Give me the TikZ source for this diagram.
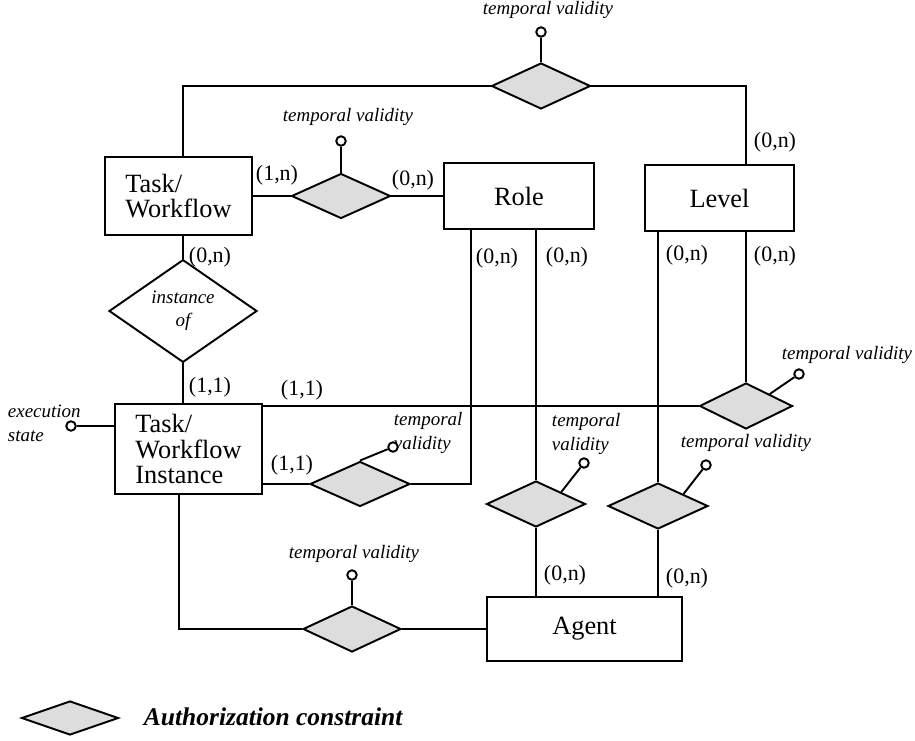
\documentclass[tikz,border=0pt]{standalone}
\usepackage{fontspec}
\setmainfont{Liberation Serif}
\usetikzlibrary{shapes.geometric}
\definecolor{relfill}{RGB}{221,221,221}
\begin{document}
\begin{tikzpicture}[x=0.02cm,y=-0.02cm,line width=1.1pt,
  ent/.style={draw,rectangle,inner sep=0pt,font=\fontsize{15}{14.5}\selectfont,align=left},
  rel/.style={draw,diamond,fill=relfill,inner sep=0pt},
  attr/.style={draw,circle,fill=white,minimum size=0.19cm,inner sep=0pt},
  card/.style={font=\fontsize{12.5}{14}\selectfont,inner sep=0pt},
  tv/.style={font=\fontsize{10.8}{13.5}\selectfont\itshape,inner sep=0pt}]
\useasboundingbox (0,0) rectangle (915,740);

% entities
\node[ent,minimum width=2.94cm,minimum height=1.56cm] (TW) at (178.5,196) {Task/\\Workflow};
\node[ent,minimum width=3.00cm,minimum height=1.32cm] (Role) at (519,196) {Role};
\node[ent,minimum width=2.98cm,minimum height=1.32cm] (Level) at (719.5,198) {Level};
\node[ent,minimum width=2.94cm,minimum height=1.80cm] (TWI) at (188.5,449) {Task/\\Workflow\\Instance};
\node[ent,minimum width=3.90cm,minimum height=1.28cm] (Agent) at (584.5,629) {Agent};

% relationships
\node[rel,minimum width=1.98cm,minimum height=0.92cm] (D1) at (541,86) {};
\node[rel,minimum width=1.98cm,minimum height=0.90cm] (D2) at (341,196) {};
\node[draw,diamond,fill=white,inner sep=0pt,minimum width=2.96cm,minimum height=1.22cm,
      font=\fontsize{10.8}{13}\selectfont\itshape,align=center] (D0) at (183,311) {instance\\of};
\node[rel,minimum width=2.00cm,minimum height=0.90cm] (D3) at (360,484) {};
\node[rel,minimum width=1.86cm,minimum height=0.92cm] (D4) at (746,406) {};
\node[rel,minimum width=1.98cm,minimum height=0.92cm] (D5) at (536,504) {};
\node[rel,minimum width=2.00cm,minimum height=0.92cm] (D6) at (658,506) {};
\node[rel,minimum width=1.96cm,minimum height=0.92cm] (D7) at (352,629) {};

% helper x positions
\coordinate (xa) at (183,0);
\coordinate (xb) at (179,0);
\coordinate (xr) at (471,0);

% connectors
\draw (D1.west) -| (TW.north -| xa);
\draw (D1.east) -| (Level.north -| D4);
\draw (TW) -- (D2) -- (Role);
\draw (D0.north) -- (D0.north |- TW.south);
\draw (D0.south) -- (D0.south |- TWI.north);
\draw (TWI.east |- D4.west) -- (D4.west);
\draw (Level.south -| D4) -- (D4.north);
\draw (Role.south -| xr) |- (D3.east);
\draw (TWI.east |- D3.west) -- (D3.west);
\draw (Role.south -| D5) -- (D5.north);
\draw (D5.south) -- (D5.south |- Agent.north);
\draw (Level.south -| D6) -- (D6.north);
\draw (D6.south) -- (D6.south |- Agent.north);
\draw (TWI.south -| xb) |- (D7.west);
\draw (D7) -- (Agent);

% labels temporal validity
\node[tv] (tv1) at (548,10) {temporal validity};
\node[tv] (tv2) at (348,117) {temporal validity};
\node[tv,anchor=west,align=left] (tv3) at (393,433) {temporal\\validity};
\node[tv] (tv4) at (847,355) {temporal validity};
\node[tv,anchor=west,align=left] (tv5) at (551,434) {temporal\\validity};
\node[tv] (tv6) at (746,443) {temporal validity};
\node[tv] (tv7) at (354,554) {temporal validity};
\node[tv,anchor=west,align=left] (ex) at (7,423) {execution\\state};

% attribute circles
\node[attr] (a1) at (541,32) {};
\node[attr] (a2) at (341,141) {};
\node[attr] (a3) at (393,447) {};
\node[attr] (a4) at (799,374) {};
\node[attr] (a5) at (584,463) {};
\node[attr] (a6) at (706,465) {};
\node[attr] (a7) at (352,575) {};
\node[attr] (a8) at (71,426) {};
\draw (a1) -- (D1.north);
\draw (a2) -- (D2.north);
\draw (a3) -- (D3.north);
\draw (a4) -- (D4.north east);
\draw (a5) -- (D5.north east);
\draw (a6) -- (D6.north east);
\draw (a7) -- (D7.north);
\draw (a8) -- (a8 -| TWI.west);

% cardinalities
\node[card] (c1) at (775,142) {(0,n)};
\node[card] (c2) at (277,175) {(1,n)};
\node[card] (c3) at (413,180) {(0,n)};
\node[card] (c4) at (210,257) {(0,n)};
\node[card] (c5) at (210,387) {(1,1)};
\node[card] (c6) at (302,390) {(1,1)};
\node[card] (c7) at (292,465) {(1,1)};
\node[card] (c8) at (497,258) {(0,n)};
\node[card] (c9) at (567,257) {(0,n)};
\node[card] (c10) at (687,255) {(0,n)};
\node[card] (c11) at (775,256) {(0,n)};
\node[card] (c12) at (565,575) {(0,n)};
\node[card] (c13) at (687,578) {(0,n)};

% legend
\node[rel,minimum width=1.94cm,minimum height=0.68cm] (LD) at (70,718) {};
\node[anchor=west,inner sep=0pt,font=\fontsize{14.5}{16}\selectfont\bfseries\itshape] (LT) at (143,717) {Authorization constraint};
\end{tikzpicture}
\end{document}
